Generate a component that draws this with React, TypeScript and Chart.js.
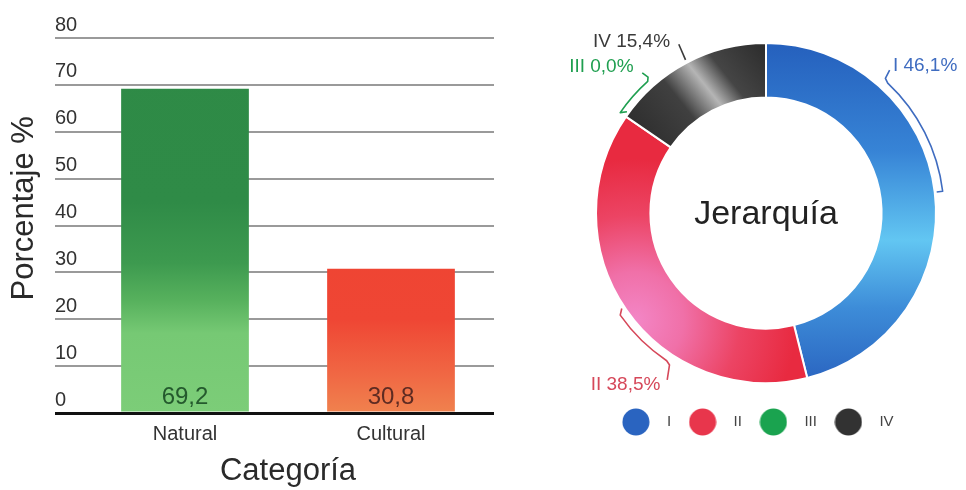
import React, { useEffect, useRef } from 'react';
import { Chart, registerables } from 'chart.js';

Chart.register(...registerables);

// ---------- data ----------
const categories = ['Natural', 'Cultural'];
const percentages = [69.2, 30.8];
const yAxisMin = 0;
const yAxisMax = 80;
const yAxisStep = 10;
const xAxisTitle = 'Categoría';
const yAxisTitle = 'Porcentaje %';

const hierarchyLabels = ['I', 'II', 'III', 'IV'];
const hierarchyShares = [46.1, 38.5, 0.0, 15.4];
const centerTitle = 'Jerarquía';

// ---------- styles ----------
const FONT = "'Liberation Sans', Arial, Helvetica, sans-serif";
const valueTextColors = ['#24592d', '#5e2b22'];
const barStops: [number, string][][] = [
  [[80, '#2e8a46'], [45, '#2f8b47'], [32, '#3d9a4f'], [24, '#57b15d'], [17, '#76c974'], [0, '#7ccd78']],
  [[80, '#ee4030'], [20, '#ef4634'], [8, '#f06844'], [0, '#f0824e']],
];
const legendColors = ['#2a64c0', '#e8364c', '#1aa34f', '#323232'];
const annotColors = ['#3f6cc0', '#d6485a', '#1f9f50', '#3a3a3a'];

const fmt = (v: number) => v.toFixed(1).replace('.', ',');

const barValuePlugin = {
  id: 'barValues',
  afterDatasetsDraw(chart: any) {
    const ctx = chart.ctx;
    const meta = chart.getDatasetMeta(0);
    const base = chart.scales.y.getPixelForValue(0);
    ctx.save();
    ctx.font = `24px ${FONT}`;
    ctx.textAlign = 'center';
    ctx.textBaseline = 'middle';
    meta.data.forEach((bar: any, i: number) => {
      ctx.fillStyle = valueTextColors[i];
      ctx.fillText(fmt(percentages[i]), bar.x, base - 16);
    });
    ctx.restore();
  },
};

const donutAnnotPlugin = {
  id: 'donutAnnot',
  afterDatasetsDraw(chart: any) {
    const ctx = chart.ctx;
    const arcs = chart.getDatasetMeta(0).data;
    if (!arcs.length) return;
    const cx = arcs[0].x;
    const cy = arcs[0].y;
    const R = arcs[0].outerRadius;
    const toDeg = (a: number) => ((a + Math.PI / 2) * 180) / Math.PI;
    const P = (r: number, d: number): [number, number] => [
      cx + r * Math.sin((d * Math.PI) / 180),
      cy - r * Math.cos((d * Math.PI) / 180),
    ];
    const rad = (d: number) => ((d - 90) * Math.PI) / 180;
    const span = arcs.map((a: any) => [toDeg(a.startAngle), toDeg(a.endAngle)]);
    const labelText = (i: number) => `${hierarchyLabels[i]} ${fmt(hierarchyShares[i])}%`;

    ctx.save();
    ctx.lineWidth = 1.6;
    ctx.lineJoin = 'round';
    ctx.font = `19px ${FONT}`;
    ctx.textBaseline = 'middle';

    // I
    {
      const [s, e] = span[0];
      const a1 = s + 0.26 * (e - s);
      const a2 = s + 0.5 * (e - s);
      ctx.strokeStyle = annotColors[0];
      ctx.beginPath();
      ctx.moveTo(...P(R + 2, a2));
      ctx.lineTo(...P(R + 8, a2));
      ctx.arc(cx, cy, R + 8, rad(a2), rad(a1), true);
      ctx.lineTo(...P(R + 10, a1 - 1.6));
      ctx.lineTo(...P(R + 19, a1 - 2.3));
      ctx.stroke();
      ctx.fillStyle = annotColors[0];
      ctx.textAlign = 'left';
      ctx.fillText(labelText(0), ...P(R + 24, a1 - 2.3));
    }
    // II
    {
      const [s, e] = span[1];
      const a1 = s + 0.346 * (e - s);
      const a2 = s + 0.498 * (e - s);
      ctx.strokeStyle = annotColors[1];
      ctx.beginPath();
      ctx.moveTo(...P(R + 3, a2 + 1.5));
      ctx.lineTo(...P(R + 8, a2));
      ctx.arc(cx, cy, R + 8, rad(a2), rad(a1), true);
      ctx.lineTo(...P(R + 10, a1 - 1.5));
      ctx.lineTo(...P(R + 24, a1 - 3.3));
      ctx.stroke();
      ctx.fillStyle = annotColors[1];
      ctx.textAlign = 'right';
      ctx.fillText(labelText(1), ...P(R + 32, a1 - 2.4));
    }
    // III
    {
      const [s] = span[2];
      const a1 = s;
      const a2 = s + 13.5;
      ctx.strokeStyle = annotColors[2];
      ctx.beginPath();
      ctx.moveTo(...P(R + 2, a1 + 1.5));
      ctx.lineTo(...P(R + 7, a1));
      ctx.arc(cx, cy, R + 7, rad(a1), rad(a2), false);
      ctx.lineTo(...P(R + 10, a2 + 1));
      ctx.lineTo(...P(R + 17, a2 + 0.5));
      ctx.stroke();
      ctx.fillStyle = annotColors[2];
      ctx.textAlign = 'right';
      ctx.fillText(labelText(2), ...P(R + 27, a2 - 0.3));
    }
    // IV
    {
      const [s, e] = span[3];
      const mid = (s + e) / 2;
      ctx.strokeStyle = annotColors[3];
      ctx.beginPath();
      ctx.moveTo(...P(R + 3, mid));
      ctx.lineTo(...P(R + 20, mid + 0.4));
      ctx.stroke();
      ctx.fillStyle = annotColors[3];
      ctx.textAlign = 'right';
      ctx.fillText(labelText(3), ...P(R + 26, mid - 1.6));
    }

    // center title
    ctx.fillStyle = '#222';
    ctx.textAlign = 'center';
    ctx.font = `34px ${FONT}`;
    ctx.fillText(centerTitle, cx, cy + 2);
    ctx.restore();
  },
};

function sliceFill(c: any) {
  const chart = c.chart;
  const area = chart.chartArea;
  const i = c.dataIndex;
  if (!area) return legendColors[i];
  const ctx = chart.ctx;
  const cx = (area.left + area.right) / 2;
  const cy = (area.top + area.bottom) / 2;
  const R = (Math.min(area.right - area.left, area.bottom - area.top) - 2) / 2;
  if (i === 0) {
    const g = ctx.createLinearGradient(cx, cy - R, cx, cy + R);
    g.addColorStop(0, '#2560bd');
    g.addColorStop(0.32, '#3784d6');
    g.addColorStop(0.58, '#62c6f2');
    g.addColorStop(0.78, '#3d8cd8');
    g.addColorStop(1, '#2a64c0');
    return g;
  }
  if (i === 1) {
    const px = cx - 0.77 * R;
    const py = cy + 0.63 * R;
    const g = ctx.createRadialGradient(px, py, 0, px, py, 0.95 * R);
    g.addColorStop(0, '#f386c6');
    g.addColorStop(0.3, '#f070a8');
    g.addColorStop(0.65, '#ec4464');
    g.addColorStop(1, '#e82a40');
    return g;
  }
  if (i === 2) return legendColors[2];
  const g = ctx.createLinearGradient(cx - 0.75 * R, cy - 0.35 * R, cx, cy - 0.95 * R);
  g.addColorStop(0, '#2a2a2a');
  g.addColorStop(0.4, '#404040');
  g.addColorStop(0.58, '#b5b5b5');
  g.addColorStop(0.72, '#454545');
  g.addColorStop(1, '#2e2e2e');
  return g;
}

function barFill(c: any) {
  const chart = c.chart;
  const i = c.dataIndex;
  const y = chart.scales && chart.scales.y;
  if (!chart.chartArea || !y) return barStops[i][0][1];
  const top = y.getPixelForValue(yAxisMax);
  const bottom = y.getPixelForValue(yAxisMin);
  const g = chart.ctx.createLinearGradient(0, top, 0, bottom);
  barStops[i].forEach(([v, col]) => g.addColorStop(1 - (v - yAxisMin) / (yAxisMax - yAxisMin), col));
  return g;
}

export default function App() {
  const barRef = useRef<HTMLCanvasElement>(null);
  const donutRef = useRef<HTMLCanvasElement>(null);

  useEffect(() => {
    Chart.defaults.font.family = FONT;

    const bar = new Chart(barRef.current as HTMLCanvasElement, {
      type: 'bar',
      data: {
        labels: categories,
        datasets: [
          {
            data: percentages,
            backgroundColor: barFill as any,
            borderWidth: 0,
            categoryPercentage: 1,
            barPercentage: 0.62,
          },
        ],
      },
      options: {
        animation: false,
        responsive: false,
        layout: { padding: { top: 38, right: 6, left: 0, bottom: 0 } },
        plugins: { legend: { display: false }, tooltip: { enabled: false } },
        scales: {
          x: {
            grid: { display: false },
            border: { display: false },
            ticks: { color: '#333', font: { size: 20 }, padding: 1 },
            title: {
              display: true,
              text: xAxisTitle,
              color: '#2a2a2a',
              font: { size: 31 },
              padding: { top: 0, bottom: 0 },
            },
            afterFit: (s: any) => {
              s.height = 77;
            },
          },
          y: {
            min: yAxisMin,
            max: yAxisMax,
            ticks: {
              stepSize: yAxisStep,
              mirror: true,
              padding: -27,
              labelOffset: -13,
              crossAlign: 'near',
              color: '#333',
              font: { size: 20 },
            },
            grid: {
              color: (c: any) => (c.tick && c.tick.value === 0 ? '#111' : '#9a9a9a'),
              lineWidth: (c: any) => (c.tick && c.tick.value === 0 ? 3 : 2),
              tickLength: 27,
              drawTicks: true,
            },
            border: { display: false },
            title: {
              display: true,
              text: '    ' + yAxisTitle,
              color: '#2a2a2a',
              font: { size: 31 },
              padding: { top: 6, bottom: 0 },
            },
            afterFit: (s: any) => {
              s.width = 82;
            },
          },
        },
      } as any,
      plugins: [barValuePlugin],
    });

    const dots = legendColors.map((col) => {
      const cv = document.createElement('canvas');
      cv.width = 28;
      cv.height = 28;
      const g = cv.getContext('2d') as CanvasRenderingContext2D;
      g.fillStyle = col;
      g.beginPath();
      g.arc(14, 14, 13.5, 0, Math.PI * 2);
      g.fill();
      return cv;
    });

    const donut = new Chart(donutRef.current as HTMLCanvasElement, {
      type: 'doughnut',
      data: {
        labels: hierarchyLabels,
        datasets: [
          {
            data: hierarchyShares,
            backgroundColor: sliceFill as any,
            borderColor: '#ffffff',
            borderWidth: 2,
          },
        ],
      },
      options: {
        animation: false,
        responsive: false,
        cutout: '68%',
        layout: { padding: { left: 9, right: 29, top: 19.5, bottom: 50.5 } },
        plugins: {
          tooltip: { enabled: false },
          title: {
            display: true,
            position: 'left',
            fullSize: false,
            text: ' ',
            font: { size: 10 },
            padding: { top: 7, bottom: 7 },
          },
          legend: {
            position: 'bottom',
            labels: {
              usePointStyle: true,
              pointStyleWidth: 47,
              padding: 8,
              color: '#444',
              font: { size: 15 },
              generateLabels: () =>
                hierarchyLabels.map((t, i) => ({
                  text: t,
                  fillStyle: legendColors[i],
                  strokeStyle: legendColors[i],
                  lineWidth: 0,
                  pointStyle: dots[i],
                  hidden: false,
                  index: i,
                  fontColor: '#444',
                })),
            },
          },
        },
      } as any,
      plugins: [donutAnnotPlugin],
    });

    return () => {
      bar.destroy();
      donut.destroy();
    };
  }, []);

  return (
    <div
      style={{
        position: 'fixed',
        left: 0,
        top: 0,
        width: 966,
        height: 490,
        background: '#ffffff',
        overflow: 'hidden',
      }}
    >
      <canvas
        ref={barRef}
        width={500}
        height={490}
        style={{ position: 'absolute', left: 0, top: 0, width: 500, height: 490 }}
      />
      <canvas
        ref={donutRef}
        width={406}
        height={490}
        style={{ position: 'absolute', left: 560, top: 0, width: 406, height: 490 }}
      />
    </div>
  );
}
